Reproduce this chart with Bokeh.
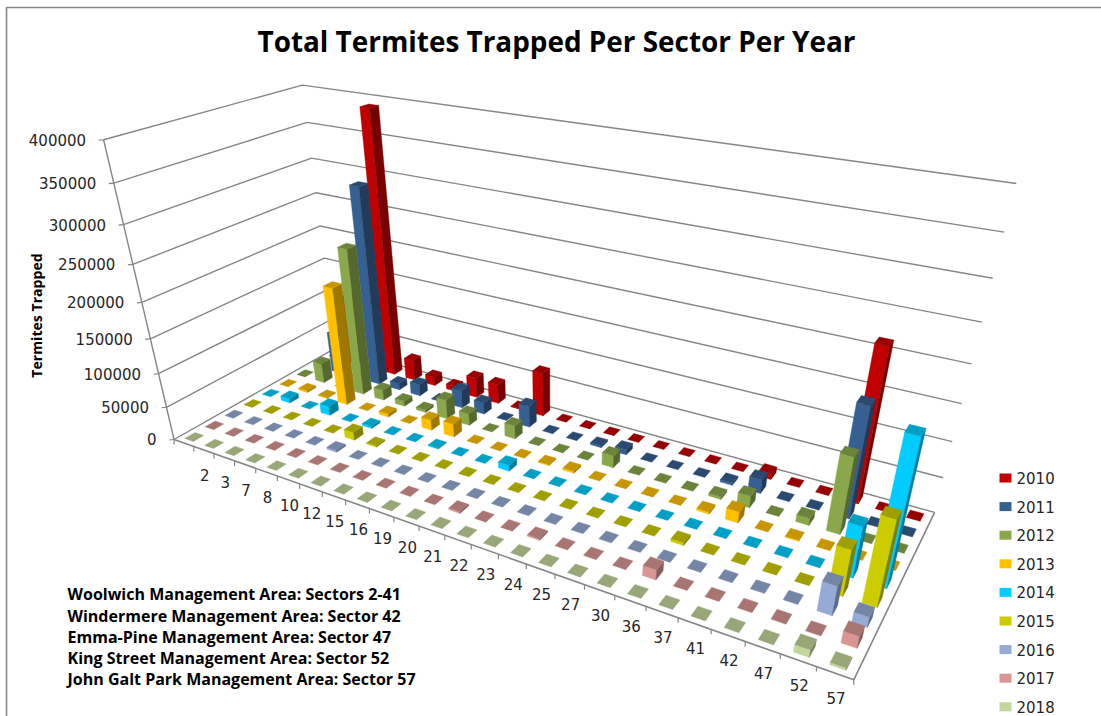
import numpy as np
from bokeh.core.properties import value
from bokeh.embed import file_html
from bokeh.models import ColumnDataSource, Range1d
from bokeh.plotting import figure
from bokeh.resources import INLINE

# Trapped termites per sector; the first category slot is unlabelled.
sectors = ["", "2", "3", "7", "8", "10", "12", "15", "16", "19", "20", "21", "22",
           "23", "24", "25", "27", "30", "36", "37", "41", "42", "47", "52", "57"]
years = ["2010", "2011", "2012", "2013", "2014", "2015", "2016", "2017", "2018"]
trapped_2010 = [0, 107000, 0, 390000, 32000, 14000, 8000, 31000, 30000, 1000, 67000, 0, 0,
                0, 0, 0, 0, 0, 0, 9000, 0, 0, 213000, 0, 0]
trapped_2011 = [0, 63000, 0, 296000, 10000, 18000, 1000, 28000, 18000, 0, 33000, 0, 0,
                3000, 8000, 0, 0, 0, 3500, 20000, 0, 0, 155000, 0, 0]
trapped_2012 = [0, 31000, 0, 221000, 16000, 8000, 4000, 30000, 18000, 0, 20000, 0, 0,
                0, 18000, 0, 0, 0, 4000, 17000, 0, 10000, 107000, 0, 0]
trapped_2013 = [0, 3000, 1500, 178000, 0, 5000, 0, 16000, 20000, 0, 0, 0, 1500,
                3000, 0, 0, 0, 0, 3000, 16000, 0, 1500, 0, 0, 0]
trapped_2014 = [0, 7000, 0, 14000, 0, 3000, 0, 0, 1500, 0, 0, 9000, 0,
                0, 0, 0, 0, 0, 0, 0, 0, 0, 0, 70000, 193000]
trapped_2015 = [0, 0, 0, 0, 0, 12000, 2000, 0, 0, 0, 0, 0, 0,
                0, 0, 0, 0, 0, 4000, 0, 0, 0, 0, 63000, 115000]
trapped_2016 = [0, 0, 0, 0, 0, 3000, 0, 0, 0, 0, 0, 0, 0,
                0, 0, 0, 0, 0, 0, 0, 0, 0, 0, 40000, 14000]
trapped_2017 = [0, 0, 0, 0, 0, 0, 0, 0, 0, 0, 0, 2500, 0,
                0, 2500, 0, 0, 0, 14000, 0, 0, 0, 0, 0, 16000]
trapped_2018 = [0, 0, 0, 0, 0, 0, 0, 0, 0, 0, 0, 0, 0,
                0, 0, 0, 0, 0, 0, 0, 0, 0, 0, 10000, 3000]
series = [trapped_2010, trapped_2011, trapped_2012, trapped_2013, trapped_2014,
          trapped_2015, trapped_2016, trapped_2017, trapped_2018]
colors = ["#C00000", "#376092", "#8AA84B", "#FFC000", "#00CCFF",
          "#CCCC00", "#95ABD5", "#D99694", "#C3D69B"]
value_ticks = [0, 50000, 100000, 150000, 200000, 250000, 300000, 350000, 400000]
area_notes = ["Woolwich Management Area: Sectors 2-41",
              "Windermere Management Area: Sector 42",
              "Emma-Pine Management Area: Sector 47",
              "King Street Management Area: Sector 52",
              "John Galt Park Management Area: Sector 57"]

N_COL, N_ROW = len(sectors), len(years)
GRID = "#868686"
TEXT = "#262626"

# Camera: world (column, row depth, value) to page pixels, solved from known box positions.
view_anchors = [((0, 0, 0), (175, 440)), ((25, 0, 0), (853, 678)), ((25, 9, 0), (934, 512)),
                ((0, 0, 400000), (103, 138)), ((0, 9, 400000), (302, 85)), ((25, 9, 400000), (1015, 183)),
                ((0, 0, 200000), (140, 302)), ((25, 9, 200000), (972, 363)), ((0, 9, 200000), (321, 227)),
                ((.5, .5, 0), (194, 437)), ((.5, 8.5, 0), (335, 352)),
                ((24.5, 8.5, 0), (915, 516)), ((24.5, .5, 0), (840, 662))]
rows = []
for (x, y, z), (u, v) in view_anchors:
    z = z / 1000
    rows.append([x, y, z, 1, 0, 0, 0, 0, -u * x, -u * y, -u * z, -u])
    rows.append([0, 0, 0, 0, x, y, z, 1, -v * x, -v * y, -v * z, -v])
CAMERA = np.linalg.svd(np.array(rows, float))[2][-1].reshape(3, 4)


def project(x, y, z):
    h = CAMERA @ np.array([x, y, z / 1000, 1.0])
    return h[0] / h[2], h[1] / h[2]


def shade(hex_color, k):
    r, g, b = (int(hex_color[i:i + 2], 16) for i in (1, 3, 5))
    return "#%02x%02x%02x" % (int(r * k), int(g * k), int(b * k))


p = figure(width=1101, height=716, output_backend="svg", toolbar_location=None,
           x_range=Range1d(0, 1101), y_range=Range1d(716, 0),
           x_axis_type=None, y_axis_type=None, min_border=0,
           background_fill_color="white", border_fill_color="white")
p.outline_line_color = None
p.grid.visible = False

# Chart frame: only the top and left edges show.
p.line([6, 6, 1101], [716, 7, 7], line_color=GRID, line_width=1.6)

# Wall gridlines and value ticks.
for t in value_ticks:
    pts = [project(0, 0, t), project(0, N_ROW, t), project(N_COL, N_ROW, t)]
    p.line([q[0] for q in pts], [q[1] for q in pts], line_color=GRID, line_width=1.4)
    ax, ay = pts[0]
    p.line([ax - 5, ax], [ay + 0.5, ay], line_color=GRID, line_width=1.2)
a0, a1 = project(0, 0, 0), project(0, 0, value_ticks[-1])
p.line([a0[0], a1[0]], [a0[1], a1[1]], line_color=GRID, line_width=1.4)

# Floor edges and category ticks.
fl = [project(0, 0, 0), project(N_COL, 0, 0), project(N_COL, N_ROW, 0)]
p.line([q[0] for q in fl], [q[1] for q in fl], line_color=GRID, line_width=1.6)
for c in range(N_COL + 1):
    tx, ty = project(c, 0, 0)
    p.line([tx, tx], [ty, ty + 5], line_color=GRID, line_width=1.2)

# Bars, painted back row first and left to right so nearer ones overlap.
HALF_W, HALF_D = 0.22, 0.25
xs, ys, fills = [], [], []
for r, (vals, col) in enumerate(zip(series, colors)):
    depth = N_ROW - r - 0.5
    for c, v in enumerate(vals):
        x0, x1 = c + 0.5 - HALF_W, c + 0.5 + HALF_W
        y0, y1 = depth - HALF_D, depth + HALF_D
        faces = []
        if v > 0:
            faces.append(([(x0, y0, 0), (x1, y0, 0), (x1, y0, v), (x0, y0, v)], col))
            faces.append(([(x1, y0, 0), (x1, y1, 0), (x1, y1, v), (x1, y0, v)], shade(col, 0.62)))
        faces.append(([(x0, y0, v), (x1, y0, v), (x1, y1, v), (x0, y1, v)], shade(col, 0.78)))
        for corners, fill in faces:
            pix = [project(*q) for q in corners]
            xs.append([q[0] for q in pix])
            ys.append([q[1] for q in pix])
            fills.append(fill)
p.patches("xs", "ys", fill_color="fills", line_color="fills", line_width=0.4,
          source=ColumnDataSource(dict(xs=xs, ys=ys, fills=fills)))

# Value axis labels.
lab = [project(0, 0, t) for t in value_ticks]
p.text([q[0] - 17.5 for q in lab], [q[1] for q in lab], text=[str(t) for t in value_ticks],
       text_font=value("DejaVu Sans"), text_font_size="15px", text_color=TEXT,
       text_align="right", text_baseline="middle")

# Sector labels under the front edge.
cat = [project(c + 0.5, 0, 0) for c in range(N_COL)]
p.text([q[0] + 1 for q in cat], [q[1] + 25 for q in cat], text=sectors,
       text_font=value("DejaVu Sans"), text_font_size="15px", text_color=TEXT,
       text_align="center", text_baseline="middle")

# Title, axis title, notes.
p.text([556], [40], text=["Total Termites Trapped Per Sector Per Year"],
       text_font=value("Open Sans"), text_font_style="bold", text_font_size="27.9px", text_color="#000000",
       text_align="center", text_baseline="middle")
p.text([36], [315], text=["Termites Trapped"], angle=np.pi / 2,
       text_font=value("Open Sans"), text_font_style="bold", text_font_size="14.1px", text_color="#000000",
       text_align="center", text_baseline="middle")
note_y = [593.5, 615, 636, 657, 678]
p.text([67] * len(area_notes), note_y, text=area_notes,
       text_font=value("Open Sans"), text_font_style="bold", text_font_size="16px", text_color="#000000",
       text_align="left", text_baseline="middle")

# Legend.
legend_y = [477.5 + 28.6 * i for i in range(len(years))]
p.rect([1005] * len(years), legend_y, width=12, height=9, fill_color=colors, line_color=None)
p.text([1016] * len(years), legend_y, text=years,
       text_font=value("DejaVu Sans"), text_font_size="15px", text_color=TEXT,
       text_align="left", text_baseline="middle")

open("out.html", "w").write(file_html(p, INLINE))
